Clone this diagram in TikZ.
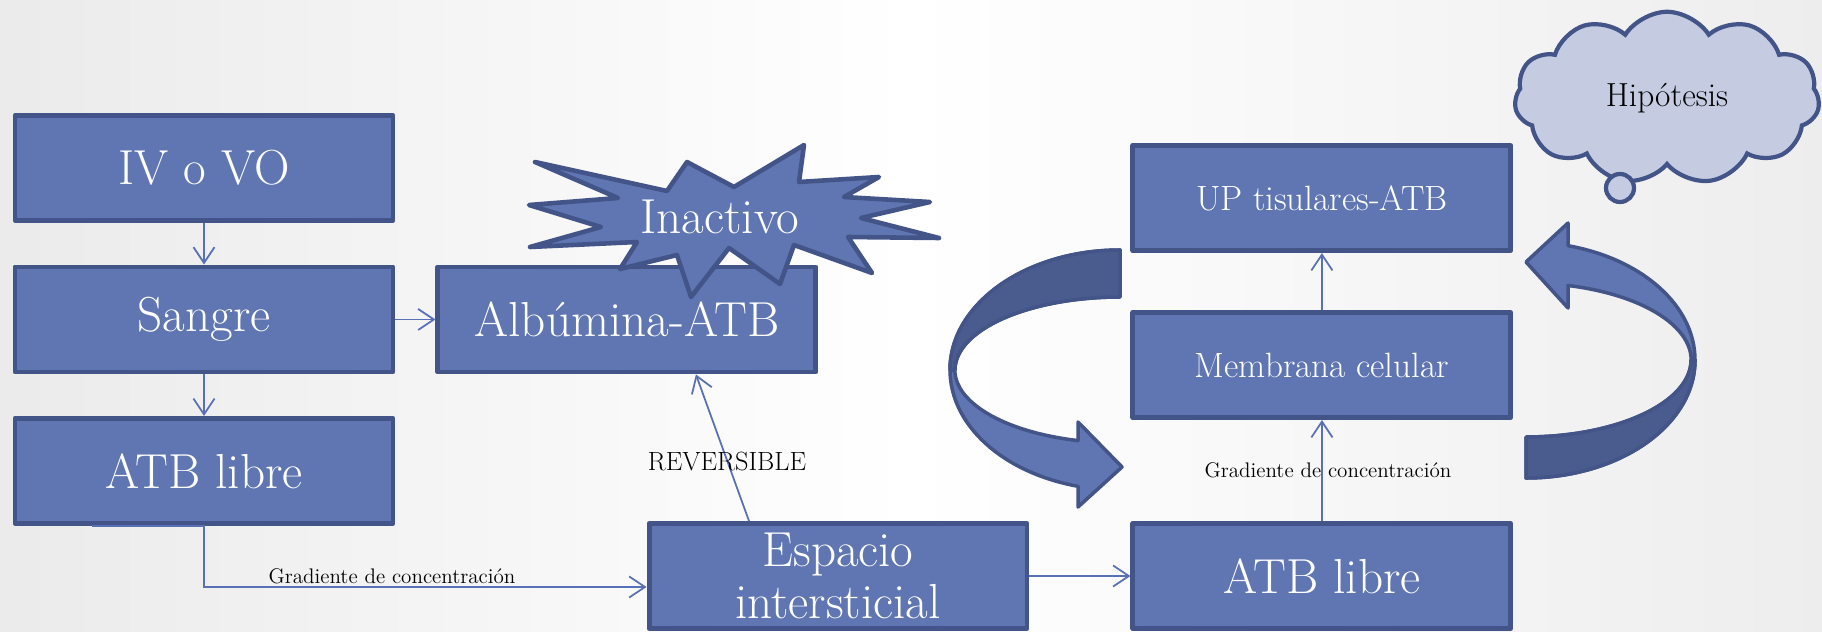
\documentclass[tikz,border=0pt]{standalone}
\usepackage{tikz}
\usepackage{xcolor}
\usetikzlibrary{arrows.meta,shapes.symbols}
\definecolor{relleno}{RGB}{96,118,178}
\definecolor{borde}{RGB}{67,84,136}
\definecolor{oscuro}{RGB}{74,91,142}
\definecolor{linea}{RGB}{88,112,182}
\definecolor{nube}{RGB}{197,204,226}
\tikzstyle{caja} = [rectangle, draw=borde, fill=relleno, line width=2.8pt, line join=round, text=white, minimum width=7.56cm, minimum height=2.1cm, font=\fontsize{28}{30}\selectfont]
\tikzstyle{cajita} = [caja, font=\fontsize{20}{22}\selectfont]
\tikzstyle{etiqueta} = [font=\fontsize{12}{14}\selectfont]
\tikzstyle{flecha} = [draw=linea, line width=1pt]
\tikzstyle{cinta} = [-, draw=borde, fill=relleno, line width=2pt, line join=round]
\tikzstyle{estrella} = [-, draw=borde, fill=relleno, line width=2.6pt, line join=round]

\begin{document}
\begin{tikzpicture}[->,>={Straight Barb[length=9pt,width=12pt]},x=0.02cm,y=-0.02cm,node distance=3.03cm]
  \useasboundingbox (0,0) rectangle (1822,632);
  \shade[-, left color=black!8, right color=black!7, middle color=white] (0,0) rectangle (1822,632);

  \node[caja] (IV_VO) at (204,168) {IV o VO};
  \node[caja] (Sangre) [below of=IV_VO] {Sangre};
  \node[caja] (ATB_uno) [below of=Sangre] {ATB libre};
  \node[caja] (Alb) [right of=Sangre, node distance=8.46cm] {Albúmina-ATB};
  \node[caja, align=center] (Espacio) at (838,576) {Espacio\\intersticial};
  \node[caja] (ATB_dos) [right of=Espacio, node distance=9.68cm] {ATB libre};
  \node[cajita] (Membrana) [above of=ATB_dos, node distance=4.22cm] {Membrana celular};
  \node[cajita] (UP) [above of=Membrana, node distance=3.34cm] {UP tisulares-ATB};

  % estrella sobre la albumina
  \draw[estrella] (535,162) -- (667,191) -- (687,162) -- (734,187) -- (804,145) -- (799,182)
    -- (879,177) -- (844,197) -- (930,202) -- (861,218) -- (939,238) -- (848,237)
    -- (872,273) -- (794,245) -- (780,284) -- (729,248) -- (691,297) -- (677,255)
    -- (620,269) -- (637,242) -- (530,247) -- (601,227) -- (529,205) -- (618,198) -- cycle;
  \node[text=white, font=\fontsize{28}{30}\selectfont] (Inactivo) at (720,217) {Inactivo};

  \node[cloud, draw=borde, fill=nube, line width=2.4pt, cloud puffs=11, cloud puff arc=115, cloud ignores aspect, minimum width=6.1cm, minimum height=3.45cm, font=\fontsize{19}{21}\selectfont] (Hipotesis) at (1667,98) {Hipótesis};
  \draw[-, draw=borde, fill=nube, line width=2.4pt] (1620,188) circle[radius=0.28cm];

  % cintas curvas
  \draw[cinta] (1120,250) arc[start angle=-90, end angle=-255.7, x radius=170, y radius=120]
    -- (1078,507) -- (1122,467) -- (1078,422) -- (1078,440.6)
    arc[start angle=-255.3, end angle=-90, x radius=165, y radius=73] -- cycle;
  \draw[cinta, fill=oscuro] (1120,250) arc[start angle=-90, end angle=-180, x radius=170, y radius=120]
    -- (955,370) arc[start angle=-180, end angle=-90, x radius=165, y radius=73] -- cycle;
  \draw[cinta] (1526,478) arc[start angle=90, end angle=-75.6, x radius=169, y radius=118]
    -- (1568,223) -- (1526,262) -- (1568,308) -- (1568,285.5)
    arc[start angle=-75.3, end angle=90, x radius=165, y radius=77] -- cycle;
  \draw[cinta, fill=oscuro] (1526,478) arc[start angle=90, end angle=0, x radius=169, y radius=118]
    -- (1691,360) arc[start angle=0, end angle=90, x radius=165, y radius=77] -- cycle;

  \path (IV_VO) edge[flecha] (Sangre);
  \path (Sangre) edge[flecha] (ATB_uno);
  \path (Sangre) edge[flecha] (Alb);
  \path (Espacio) edge[flecha] (ATB_dos);
  \path (ATB_dos) edge[flecha] (Membrana);
  \path (Membrana) edge[flecha] (UP);

  \coordinate (G_a) at ([xshift=-2.24cm]ATB_uno.south);
  \coordinate (G_b) at ([yshift=-0.22cm]Espacio.west);
  \draw[flecha] (G_a) -- (ATB_uno.south) |- (G_b);
  \draw[flecha] ([xshift=-1.78cm]Espacio.north) -- ([xshift=1.38cm]Alb.south);

  \node[etiqueta] (Grad_uno) at (392,576) {Gradiente de concentración};
  \node[etiqueta] (Grad_dos) at (1328,470) {Gradiente de concentración};
  \node[font=\fontsize{15}{17}\selectfont] (Rev) at (727,461) {REVERSIBLE};
\end{tikzpicture}
\end{document}
